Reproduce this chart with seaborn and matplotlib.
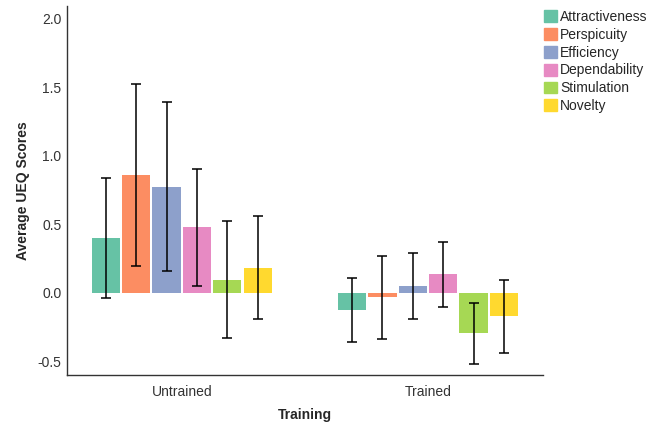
import pandas as pd
import numpy as np
import matplotlib.pyplot as plt
import seaborn as sns

# values
groups = ['Untrained', 'Trained']
scales = ['Attractiveness', 'Perspicuity', 'Efficiency', 'Dependability', 'Stimulation', 'Novelty']
means_untrained = [0.40, 0.86, 0.774, 0.478, 0.095, 0.182]
means_trained = [-0.129, -0.034, 0.051, 0.134, -0.297, -0.173]
err_untrained = [0.44, 0.665, 0.615, 0.427, 0.428, 0.375]
err_trained = [0.234, 0.305, 0.24, 0.238, 0.225, 0.265]
colors = ['#66c2a5', '#fc8d62', '#8da0cb', '#e78ac3', '#a6d854', '#ffd92f']

sns.set_theme(style="white")
plt.rcParams['font.family'] = ['Liberation Sans', 'DejaVu Sans']

df = pd.DataFrame({
    'Training': np.repeat(groups, len(scales)),
    'Scale': scales * len(groups),
    'Score': means_untrained + means_trained,
    'Err': err_untrained + err_trained,
})

fig = plt.figure(figsize=(6.55, 4.26), dpi=100)
ax = fig.add_axes([0.102, 0.12, 0.727, 0.865])

sns.barplot(data=df, x='Training', y='Score', hue='Scale', order=groups, hue_order=scales,
            palette=colors, width=0.74, gap=0.07, errorbar=None, saturation=1,
            linewidth=0, ax=ax)

# error bars at the bar centres
for scale, cont in zip(scales, ax.containers):
    sub = df[df['Scale'] == scale].set_index('Training').loc[groups]
    xs = [b.get_x() + b.get_width() / 2 for b in cont]
    ax.errorbar(xs, sub['Score'], yerr=sub['Err'], fmt='none', ecolor='black',
                elinewidth=1.1, capsize=3.5, capthick=1.1, zorder=5)

ax.set_xlim(-0.467, 1.467)
ax.set_ylim(-0.6, 2.09)
ax.set_yticks([-0.5, 0.0, 0.5, 1.0, 1.5, 2.0])
ax.set_yticklabels(['-0.5', '0.0', '0.5', '1.0', '1.5', '2.0'])
ax.tick_params(axis='both', length=0, labelsize=10, labelcolor='#333333')
ax.tick_params(axis='x', pad=7)
ax.tick_params(axis='y', pad=4)
ax.set_xlabel('Training', fontsize=10, fontweight='bold', labelpad=7)
ax.set_ylabel('Average UEQ Scores', fontsize=10, fontweight='bold', labelpad=5)
for side in ['top', 'right']:
    ax.spines[side].set_visible(False)
for side in ['left', 'bottom']:
    ax.spines[side].set_color('#333333')
    ax.spines[side].set_linewidth(1.0)

handles = [plt.Rectangle((0, 0), 1, 1, color=c) for c in colors]
ax.get_legend().remove()
fig.legend(handles, scales, loc='upper left', bbox_to_anchor=(0.816, 1.0), frameon=False,
           fontsize=10, handlelength=0.95, handleheight=0.95, handletextpad=0.2,
           labelspacing=0.28, borderpad=0.2)

plt.savefig('out.png', dpi=100)
